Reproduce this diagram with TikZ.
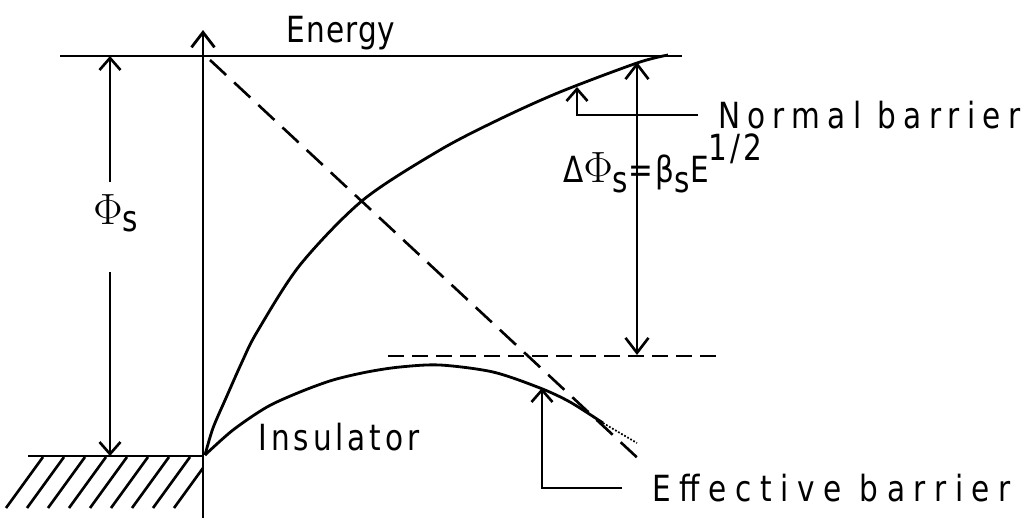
\documentclass[tikz,border=0pt]{standalone}
\usepackage{fontspec}
\usetikzlibrary{positioning,arrows.meta,calc}
\newfontfamily\lblfont[FakeStretch=0.82]{DejaVu Sans}
\tikzset{
  axis/.style={line width=1.6pt, -{Straight Barb[length=3mm,width=4.6mm]}},
  barrier/.style={line width=1.6pt, line join=round},
  guide/.style={line width=1.5pt, dash pattern=on 4.4mm off 2.2mm},
  level/.style={line width=1.5pt, dash pattern=on 3.2mm off 1.6mm},
  marker/.style={line width=1.5pt,
                 {Straight Barb[length=3mm,width=4.6mm]}-{Straight Barb[length=3mm,width=4.6mm]}},
  tip/.style={line width=1.5pt, -{Straight Barb[length=2.4mm,width=4.2mm]}},
  leader/.style={line width=1.5pt},
  label/.style={font=\lblfont\fontsize{20.5}{24}\selectfont, inner sep=0pt}
}

\begin{document}
\begin{tikzpicture}[x=0.2mm, y=-0.2mm]
\useasboundingbox (0,0) rectangle (1026,527);
\coordinate (surf) at (203,456);
\coordinate (vac) at (110,56);
\coordinate (fermi) at (110,456);
\coordinate (nbtip) at (577,87);
\coordinate (ebtip) at (542,388);

\draw[axis] (203,518) -- (203,30);
\draw[leader] (60,56) -- (682,56);
\draw[leader] (28,456) -- (surf);
\begin{scope}
  \clip (0,457) rectangle (202,515);
  \foreach \x in {43,64,...,211}
    \draw[leader] (\x,457) -- ++(-37,51);
\end{scope}

\node[label, anchor=base] (energy) at (341,42)
  {\addfontfeature{LetterSpace=3}Energy};
\node[label, anchor=base west] (phis) at (93,224)
  {{\fontsize{34}{36}\selectfont$\Phi$}\raisebox{-.2em}{s}};
\draw[tip] (110,182) -- (vac);
\draw[tip] (110,272) -- (fermi);

\draw[barrier] plot[smooth] coordinates {(205,455) (213,428) (226,398) (242,362)
  (257,332) (300,265) (363,200) (440,150) (500,119) (560,92) (637,63) (668,55)};
\draw[barrier] plot[smooth] coordinates {(205,455) (233,430) (267,407) (300,392)
  (333,380) (367,372) (400,367) (440,365) (493,372) (540,388) (570,402) (603,423)};
\draw[line width=1pt, densely dotted] (603,423) -- (637,443);

\draw[guide] (210,60) -- (643,463);
\draw[level] (388,356) -- (722,356);
\draw[marker] (637,62) -- (637,355);
\node[label, anchor=base west] (dphi) at (563,182)
  {\addfontfeature{LetterSpace=8}Δ{\fontsize{30}{32}\selectfont$\Phi$}\raisebox{-.3em}{s}=β\raisebox{-.3em}{s}E\raisebox{.6em}{1/2}};

\node[label, anchor=base west] (insul) at (258,450)
  {\addfontfeature{LetterSpace=11}Insulator};
\node[label, anchor=west] (nb) at (718,115)
  {\addfontfeature{LetterSpace=20}Normal barrier};
\draw[tip] ([xshift=-4mm]nb.west) -| (nbtip);
\node[label, anchor=west] (eb) at (652,488)
  {\addfontfeature{LetterSpace=24}Effective barrier};
\draw[tip] ([xshift=-6mm]eb.west) -| (ebtip);
\end{tikzpicture}
\end{document}
